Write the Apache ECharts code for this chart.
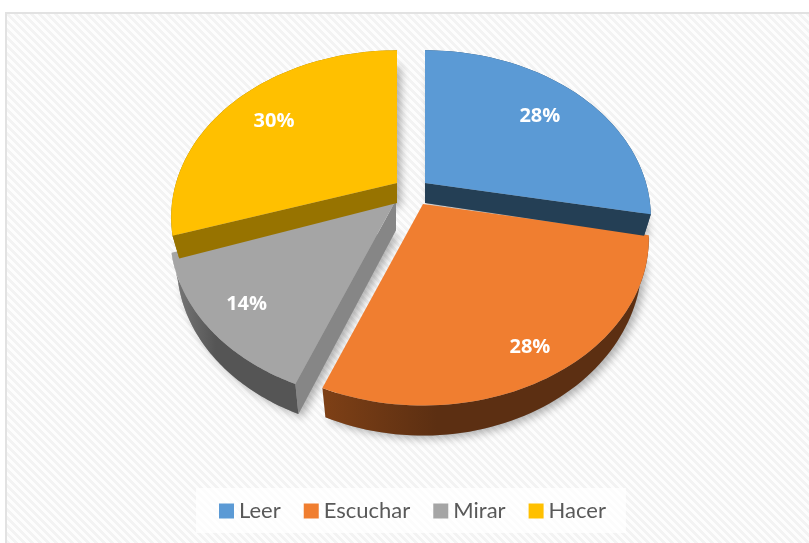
<!DOCTYPE html>
<html>
<head>
<meta charset="utf-8">
<style>html,body{margin:0;padding:0;background:#fff}#c{width:809px;height:543px}</style>
<script src="https://cdn.jsdelivr.net/npm/echarts@6/dist/echarts.min.js"></script>
</head>
<body>
<div id="c"></div>
<script>
const categories = ['Leer', 'Escuchar', 'Mirar', 'Hacer'];
const percentValues = [28, 28, 14, 30];

// Layout and style (not data)
const topColors = ['#5B9AD5', '#F07E30', '#A5A5A5', '#FFC000'];
const radialColors = ['#243F55', '#5E3013', '#868686', '#977300'];
const wallStops = [['#2A4A66', '#2A4A66'], ['#7E4016', '#5C2F12'], ['#7A7A7A', '#555555'], ['#977300', '#977300']];
const tips = [[425, 183], [423, 204], [396, 200], [397, 183]];
const labelRadius = [0.74, 0.85, 0.82, 0.75];
const paintOrder = [3, 2, 4, 5]; // z for Leer, Escuchar, Mirar, Hacer
const depths = [20, 20, 30, 20];
const baseScaleY = [1.05, 1.05, 1.0, 1.05];
const A = 221, B = 160, K = 0.206, BASE_SX = 0.97, LABEL_DY = 2.5;

const total = percentValues.reduce((s, v) => s + v, 0);
const startShare = [];
percentValues.reduce((s, v, i) => { startShare[i] = s; return s + v; }, 0);

function project(i, share, r, isBase) {
  const th = share / total * Math.PI * 2;
  const u = r * Math.sin(th), v = -r * Math.cos(th), w = 1 - K * v;
  const x = A * u / w, y = B * v / w;
  return isBase
    ? [tips[i][0] + x * BASE_SX, tips[i][1] + depths[i] + y * baseScaleY[i]]
    : [tips[i][0] + x, tips[i][1] + y];
}
function arc(i, isBase) {
  const pts = [], n = 64, s = startShare[i], d = percentValues[i];
  for (let k = 0; k <= n; k++) pts.push(project(i, s + d * k / n, 1, isBase));
  return pts;
}
function poly(points, fill, extra) {
  return { type: 'polygon', shape: { points }, style: Object.assign({ fill }, extra || {}) };
}
function sliceSeries(i) {
  return {
    type: 'custom', name: categories[i], coordinateSystem: 'none', z: paintOrder[i],
    data: [percentValues[i]], silent: true,
    itemStyle: { color: topColors[i] },
    renderItem: function () {
      const top = arc(i, false), base = arc(i, true);
      const tip = project(i, 0, 0, false), tipB = project(i, 0, 0, true);
      const grad = new echarts.graphic.LinearGradient(0, 0, 1, 0, [
        { offset: 0, color: wallStops[i][0] },
        { offset: 0.35, color: wallStops[i][1] },
        { offset: 1, color: wallStops[i][1] }]);
      const startAngle = startShare[i] / total * Math.PI * 2;
      const endAngle = (startShare[i] + percentValues[i]) / total * Math.PI * 2;
      const wall = top.concat(base.slice().reverse());
      const mid = startShare[i] + percentValues[i] / 2;
      const lp = project(i, mid, labelRadius[i], false);
      const children = [poly(wall, grad)];
      // A cut face shows only when its outward normal points towards the viewer
      if (-Math.sin(startAngle) > 1e-6) children.push(poly([top[0], base[0], tipB, tip], radialColors[i]));
      if (Math.sin(endAngle) > 1e-6) children.push(poly([top[top.length - 1], base[base.length - 1], tipB, tip], radialColors[i]));
      children.push(poly([tip].concat(top), topColors[i]));
      children.push({ type: 'text', x: lp[0], y: lp[1] + LABEL_DY, style: {
        text: percentValues[i] + '%', fill: '#fff', font: 'bold 20px "Open Sans", Lato, sans-serif',
        align: 'center', verticalAlign: 'middle' } });
      return { type: 'group', children };
    }
  };
}
const shadowSeries = {
  type: 'custom', name: 'sombra', coordinateSystem: 'none', z: 1, silent: true,
  data: percentValues,
  renderItem: function (params) {
    const i = params.dataIndex;
    const base = arc(i, true), tipB = project(i, 0, 0, true);
    return poly([tipB].concat(base), '#999', {
      shadowBlur: 8, shadowColor: 'rgba(0,0,0,0.3)', shadowOffsetX: 4, shadowOffsetY: 3 });
  }
};

const tile = document.createElement('canvas');
tile.width = tile.height = 8;
const g = tile.getContext('2d');
for (let y = 0; y < 8; y++) for (let x = 0; x < 8; x++) {
  g.fillStyle = ((x - y + 16) % 8) < 4 ? '#F3F3F3' : '#FDFDFD';
  g.fillRect(x, y, 1, 1);
}

const chart = echarts.init(document.getElementById('c'), null, { renderer: 'canvas' });
chart.setOption({
  backgroundColor: '#fff',
  animation: false,
  graphic: [
    { type: 'rect', z: -10, shape: { x: 7, y: 14, width: 802, height: 529 }, style: { fill: { image: tile, repeat: 'repeat' } } },
    { type: 'rect', z: -9, shape: { x: 5, y: 12, width: 804, height: 2 }, style: { fill: '#E2E2E2' } },
    { type: 'rect', z: -9, shape: { x: 5, y: 12, width: 2, height: 531 }, style: { fill: '#E2E2E2' } }
  ],
  legend: {
    data: categories, icon: 'rect', left: 196, top: 488,
    padding: [12, 20, 11, 23], itemWidth: 15, itemHeight: 15, itemGap: 23,
    backgroundColor: 'rgba(255,255,255,0.75)',
    textStyle: { color: '#595959', fontFamily: 'Lato, "Open Sans", sans-serif', fontSize: 22 },
    selectedMode: false
  },
  series: categories.map((_, i) => sliceSeries(i)).concat([shadowSeries])
});
</script>
</body>
</html>
